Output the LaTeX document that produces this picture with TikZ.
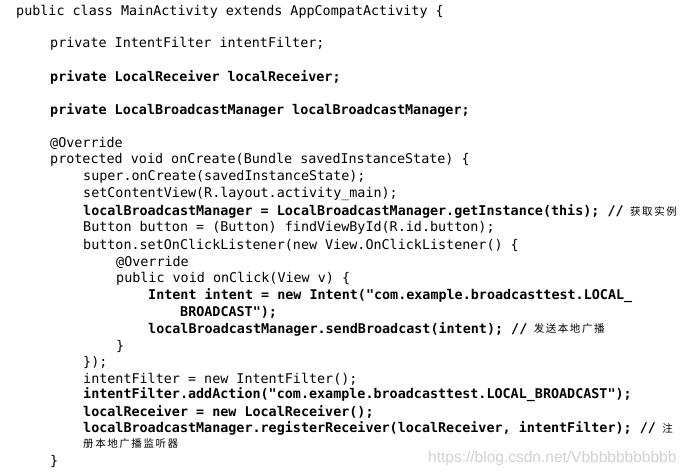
\documentclass[tikz,border=0pt]{standalone}
\usepackage{fontspec}
\setmonofont{DejaVu Sans Mono}
\newfontfamily\cjk{Noto Sans CJK SC}
\newfontfamily\wm{Liberation Sans}
\begin{document}
\begin{tikzpicture}[x=1pt,y=-1pt,
  code/.style={anchor=west,inner sep=0pt,font=\fontsize{13.4}{14}\ttfamily},
  bcode/.style={code,font=\fontsize{13.4}{14}\ttfamily\bfseries},
  cn/.style={anchor=west,inner sep=0pt,font=\fontsize{10.5}{11}\cjk\addfontfeatures{LetterSpace=15}}]
\useasboundingbox[fill=white] (0,0) rectangle (692,474);
\node[code] (l1) at (16,12) {public class MainActivity extends AppCompatActivity \{};
\node[code] (l2) at (50,44) {private IntentFilter intentFilter;};
\node[bcode] (l3) at (50,77) {private LocalReceiver localReceiver;};
\node[bcode] (l4) at (50,110) {private LocalBroadcastManager localBroadcastManager;};
\node[code] (l5) at (50,143) {@Override};
\node[code] (l6) at (50,160) {protected void onCreate(Bundle savedInstanceState) \{};
\node[code] (l7) at (83,177) {super.onCreate(savedInstanceState);};
\node[code] (l8) at (83,194) {setContentView(R.layout.activity\_main);};
\node[bcode] (l9) at (83,211) {localBroadcastManager = LocalBroadcastManager.getInstance(this); //};
\node[cn] (c9) at (l9.east) [xshift=6pt] {获取实例};
\node[code] (l10) at (83,228) {Button button = (Button) findViewById(R.id.button);};
\node[code] (l11) at (83,245) {button.setOnClickListener(new View.OnClickListener() \{};
\node[code] (l12) at (116,262) {@Override};
\node[code] (l13) at (116,279) {public void onClick(View v) \{};
\node[bcode] (l14) at (148,296) {Intent intent = new Intent("com.example.broadcasttest.LOCAL\_};
\node[bcode] (l15) at (180,312) {BROADCAST");};
\node[bcode] (l16) at (148,329) {localBroadcastManager.sendBroadcast(intent); //};
\node[cn] (c16) at (l16.east) [xshift=6pt] {发送本地广播};
\node[code] (l17) at (116,346) {\}};
\node[code] (l18) at (83,362) {\});};
\node[code] (l19) at (83,379) {intentFilter = new IntentFilter();};
\node[bcode] (l20) at (83,395) {intentFilter.addAction("com.example.broadcasttest.LOCAL\_BROADCAST");};
\node[bcode] (l21) at (83,412) {localReceiver = new LocalReceiver();};
\node[bcode] (l22) at (83,428) {localBroadcastManager.registerReceiver(localReceiver, intentFilter); //};
\node[cn] (c22) at (l22.east) [xshift=6pt] {注};
\node[cn] (c23) at (83,444) {册本地广播监听器};
\node[code] (l24) at (50,461) {\}};
\node[anchor=west,inner sep=0pt,text=black!18,font=\fontsize{15.5}{16}\wm] (w) at (428,458) {https://blog.csdn.net/Vbbbbbbbbbbb};
\end{tikzpicture}
\end{document}
